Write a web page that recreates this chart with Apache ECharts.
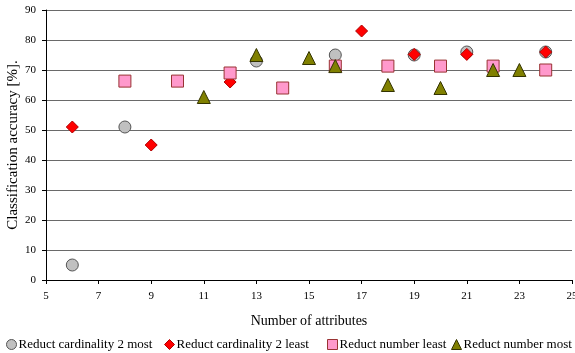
<!DOCTYPE html>
<html>
<head>
<meta charset="utf-8">
<script src="https://cdn.jsdelivr.net/npm/echarts@6/dist/echarts.min.js"></script>
<style>
html,body{margin:0;padding:0;background:#fff;}
#chart{width:575px;height:353px;}
</style>
</head>
<body>
<div id="chart"></div>
<script>
// Number of attributes vs. classification accuracy for four reduct selection strategies
const cardMostX = [6, 8, 13, 16, 19, 21, 24];
const cardMostY = [5, 51, 73, 75, 75, 76, 76];

const cardLeastX = [6, 9, 12, 17, 19, 21, 24];
const cardLeastY = [51, 45, 66, 83, 75.2, 75.2, 76];

const numLeastX = [8, 10, 12, 14, 16, 18, 20, 22, 24];
const numLeastY = [66.3, 66.3, 69, 64, 71.3, 71.3, 71.3, 71.3, 70];

const numMostX = [11, 13, 15, 16, 18, 20, 22, 23];
const numMostY = [61, 75, 74, 71.3, 65, 64, 70, 70];

const seriesNames = [
  'Reduct cardinality 2 most',
  'Reduct cardinality 2 least',
  'Reduct number least',
  'Reduct number most'
];

const xTicks = { min: 5, max: 25, step: 2 };
const yTicks = { min: 0, max: 90, step: 10 };

const pairs = (xs, ys) => xs.map((x, i) => [x, ys[i]]);

const FONT = '"Liberation Serif", "Times New Roman", serif';

const styles = [
  { symbol: 'circle', size: 12, color: '#c0c0c0', border: '#555555' },
  { symbol: 'diamond', size: 12, color: '#ff0000', border: '#b00000' },
  { symbol: 'rect', size: 12, color: '#ff99cc', border: '#993333' },
  { symbol: 'triangle', size: 13, color: '#808000', border: '#333300' }
];
const datasets = [
  pairs(cardMostX, cardMostY),
  pairs(cardLeastX, cardLeastY),
  pairs(numLeastX, numLeastY),
  pairs(numMostX, numMostY)
];

const legendLefts = [6, 164, 327, 451];

const chart = echarts.init(document.getElementById('chart'), null, { renderer: 'canvas' });
chart.setOption({
  animation: false,
  backgroundColor: '#ffffff',
  textStyle: { fontFamily: FONT },
  grid: { left: 46, right: 3, top: 10, bottom: 73, containLabel: false, outerBoundsMode: 'none' },
  legend: seriesNames.map((name, i) => ({
    data: [name],
    left: legendLefts[i],
    top: 338,
    itemWidth: 10,
    itemHeight: 10,
    itemGap: 0,
    padding: 0,
    textStyle: { fontFamily: FONT, fontSize: 13, color: '#000', padding: [0, 0, 0, -3] },
    itemStyle: { borderWidth: 1 }
  })),
  xAxis: {
    type: 'value',
    min: xTicks.min, max: xTicks.max, interval: xTicks.step,
    name: 'Number of attributes',
    nameLocation: 'middle',
    nameGap: 34,
    nameMoveOverlap: false,
    nameTextStyle: { fontFamily: FONT, fontSize: 14, color: '#000' },
    axisLine: { lineStyle: { color: '#000', width: 1 } },
    axisTick: { show: true, length: 4, lineStyle: { color: '#000' } },
    axisLabel: { fontFamily: FONT, fontSize: 11, color: '#000', margin: 11, showMaxLabel: true, hideOverlap: false },
    splitLine: { show: false }
  },
  yAxis: {
    type: 'value',
    min: yTicks.min, max: yTicks.max, interval: yTicks.step,
    name: 'Classification accuracy [%].',
    nameLocation: 'middle',
    nameGap: 25,
    nameMoveOverlap: false,
    nameTextStyle: { fontFamily: FONT, fontSize: 15, color: '#000' },
    axisLine: { show: true, lineStyle: { color: '#000', width: 1 } },
    axisTick: { show: true, length: 4, lineStyle: { color: '#000' } },
    axisLabel: { fontFamily: FONT, fontSize: 11, color: '#000', margin: 10 },
    splitLine: { show: true, lineStyle: { color: '#6a6a6a', width: 1 } }
  },
  series: datasets.map((d, i) => ({
    name: seriesNames[i],
    type: 'scatter',
    data: d,
    symbol: styles[i].symbol,
    symbolSize: styles[i].size,
    itemStyle: { color: styles[i].color, borderColor: styles[i].border, borderWidth: 1, opacity: 1 },
    z: 2 + i
  }))
});
</script>
</body>
</html>
